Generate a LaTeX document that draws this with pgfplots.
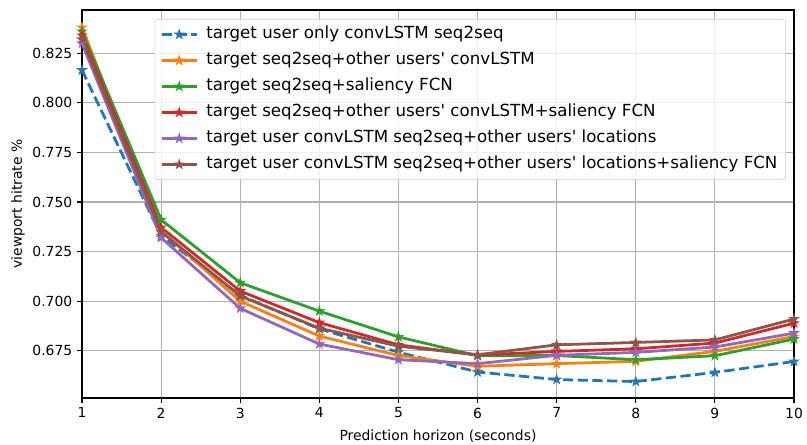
\documentclass[border=0pt]{standalone}
\usepackage{fontspec}
\setmainfont{DejaVu Sans}
\usepackage{pgfplots}
\pgfplotsset{compat=1.18}
\definecolor{tabblue}{HTML}{1F77B4}
\definecolor{taborange}{HTML}{FF7F0E}
\definecolor{tabgreen}{HTML}{2CA02C}
\definecolor{tabred}{HTML}{D62728}
\definecolor{tabpurple}{HTML}{9467BD}
\definecolor{tabbrown}{HTML}{8C564B}
\definecolor{gridgray}{HTML}{B0B0B0}
\newcommand{\q}{\textquotesingle}
\pgfdeclareplotmark{fstar}{%
  \pgfpathmoveto{\pgfpointpolar{90}{\pgfplotmarksize}}%
  \pgfpathlineto{\pgfpointpolar{126}{0.382\pgfplotmarksize}}%
  \pgfpathlineto{\pgfpointpolar{162}{\pgfplotmarksize}}%
  \pgfpathlineto{\pgfpointpolar{198}{0.382\pgfplotmarksize}}%
  \pgfpathlineto{\pgfpointpolar{234}{\pgfplotmarksize}}%
  \pgfpathlineto{\pgfpointpolar{270}{0.382\pgfplotmarksize}}%
  \pgfpathlineto{\pgfpointpolar{306}{\pgfplotmarksize}}%
  \pgfpathlineto{\pgfpointpolar{342}{0.382\pgfplotmarksize}}%
  \pgfpathlineto{\pgfpointpolar{18}{\pgfplotmarksize}}%
  \pgfpathlineto{\pgfpointpolar{54}{0.382\pgfplotmarksize}}%
  \pgfpathclose
  \pgfusepathqfillstroke}
\begin{document}
\begin{tikzpicture}
\useasboundingbox (0,0) rectangle (581.04bp,320.4bp);
\begin{axis}[
  at={(59.04bp,33.84bp)}, anchor=south west,
  scale only axis, width=512.64bp, height=279.36bp,
  xmin=1, xmax=10, ymin=0.6512, ymax=0.8468,
  xtick={1,2,3,4,5,6,7,8,9,10},
  ytick={0.675,0.7,0.725,0.75,0.775,0.8,0.825},
  yticklabel style={/pgf/number format/.cd, fixed, fixed zerofill, precision=3},
  /pgf/number format/assume math mode=true,
  tick label style={font=\fontsize{10bp}{12bp}\selectfont},
  label style={font=\fontsize{10bp}{12bp}\selectfont},
  xlabel={Prediction horizon (seconds)},
  ylabel={viewport hitrate \%},
  xlabel style={at={(axis description cs:0.5,0)}, anchor=center, yshift=-27.4bp},
  ylabel style={at={(axis description cs:0,0.5)}, anchor=center, yshift=46bp},
  tick pos=left, tick align=outside,
  major tick length=3.5bp,
  every tick/.style={black, line width=0.8bp},
  axis line style={black, line width=0.8bp},
  grid=major, grid style={gridgray, line width=0.8bp},
  every axis plot/.append style={line width=2bp, mark=fstar, mark size=3.1bp, mark options={solid, line width=0.8bp}},
  legend cell align=left,
  legend style={at={(0.9888,0.9768)}, anchor=north east,
    draw=black!20, fill=white, fill opacity=0.8, text opacity=1, rounded corners=2bp,
    font=\fontsize{12bp}{14bp}\selectfont,
    nodes={inner ysep=0pt, text height=9bp, text depth=3bp},
    row sep=6.7bp, column sep=4bp, inner xsep=4bp, inner ysep=5bp},
  legend image code/.code={\draw[mark repeat=2, mark phase=2] plot coordinates {(0bp,0bp) (12.5bp,0bp) (25bp,0bp)};},
]
\addplot[tabblue, dashed, dash pattern=on 7.4bp off 3.2bp] coordinates {
(1,0.8165) (2,0.7330) (3,0.7030) (4,0.6860) (5,0.6743) (6,0.6643) (7,0.6605) (8,0.6595) (9,0.6641) (10,0.6696)};
\addlegendentry{target user only convLSTM seq2seq}
\addplot[taborange] coordinates {
(1,0.8380) (2,0.7355) (3,0.7000) (4,0.6824) (5,0.6726) (6,0.6672) (7,0.6685) (8,0.6697) (9,0.6747) (10,0.6822)};
\addlegendentry{target seq2seq+other users\q{} convLSTM}
\addplot[tabgreen] coordinates {
(1,0.8360) (2,0.7411) (3,0.7093) (4,0.6950) (5,0.6820) (6,0.6725) (7,0.6726) (8,0.6705) (9,0.6725) (10,0.6809)};
\addlegendentry{target seq2seq+saliency FCN}
\addplot[tabred] coordinates {
(1,0.8340) (2,0.7372) (3,0.7051) (4,0.6892) (5,0.6780) (6,0.6728) (7,0.6747) (8,0.6760) (9,0.6789) (10,0.6889)};
\addlegendentry{target seq2seq+other users\q{} convLSTM+saliency FCN}
\addplot[tabpurple] coordinates {
(1,0.8300) (2,0.7320) (3,0.6964) (4,0.6784) (5,0.6705) (6,0.6685) (7,0.6727) (8,0.6742) (9,0.6769) (10,0.6839)};
\addlegendentry{target user convLSTM seq2seq+other users\q{} locations}
\addplot[tabbrown] coordinates {
(1,0.8320) (2,0.7350) (3,0.7026) (4,0.6864) (5,0.6773) (6,0.6730) (7,0.6780) (8,0.6792) (9,0.6805) (10,0.6910)};
\addlegendentry{target user convLSTM seq2seq+other users\q{} locations+saliency FCN}
\end{axis}
\end{tikzpicture}
\end{document}
